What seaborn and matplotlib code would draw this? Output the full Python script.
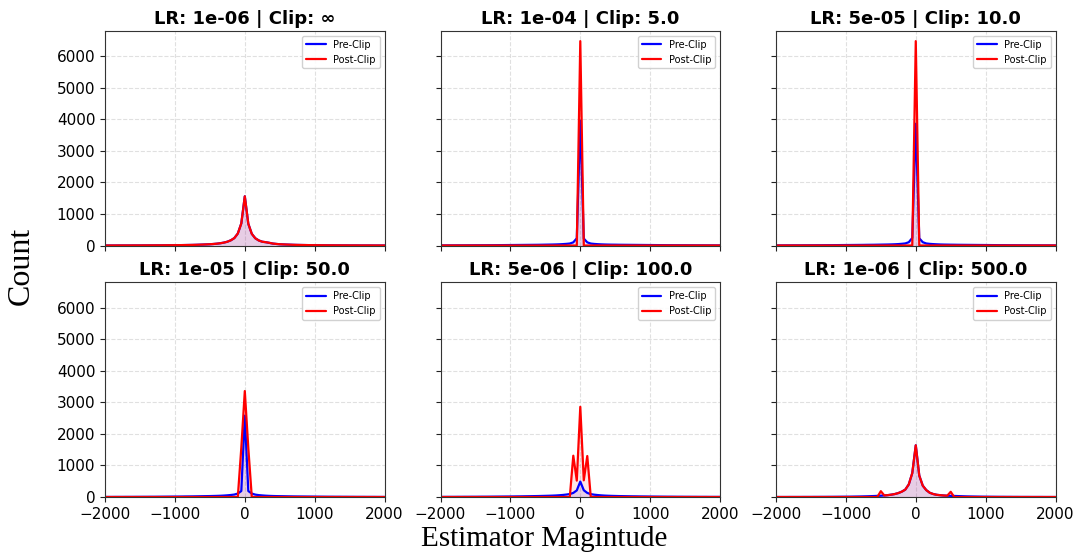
import numpy as np
import pandas as pd
import matplotlib
matplotlib.use("Agg")
import matplotlib.pyplot as plt
import seaborn as sns

# Histogram bin centres of the estimator magnitude (bin width 50)
bin_centers = np.arange(-2000, 2001, 50)

titles = [
    "LR: 1e-06 | Clip: \u221e",
    "LR: 1e-04 | Clip: 5.0",
    "LR: 5e-05 | Clip: 10.0",
    "LR: 1e-05 | Clip: 50.0",
    "LR: 5e-06 | Clip: 100.0",
    "LR: 1e-06 | Clip: 500.0",
]

# --- counts per bin: left tail (-2000..-550), core (-500..500), right tail (550..2000)
pre_1 = ([1, 1, 1, 1, 2, 2, 2, 2, 3, 3, 3, 4, 4, 5, 5, 6, 6, 7, 8, 9,
          10, 11, 13, 15, 17, 19, 22, 26, 30, 35]
         + [40, 48, 58, 72, 92, 120, 165, 235, 380, 700, 1560, 690, 370, 230,
            160, 120, 105, 85, 62, 50, 40]
         + [35, 30, 26, 22, 19, 17, 15, 13, 11, 10, 9, 8, 7, 6, 6, 5, 5, 4, 4,
            3, 3, 3, 2, 2, 2, 2, 1, 1, 1, 1])
post_1 = list(pre_1)  # no clipping

pre_2 = ([4, 4, 5, 5, 5, 6, 6, 6, 7, 7, 8, 8, 9, 9, 10, 10, 11, 12, 13, 14,
          15, 16, 17, 18, 19, 20, 21, 22, 23, 25]
         + [27, 29, 31, 34, 38, 44, 52, 63, 100, 230, 3960, 220, 100, 62, 50,
            42, 36, 32, 29, 27, 26]
         + [24, 23, 22, 21, 20, 19, 18, 17, 16, 15, 14, 13, 12, 11, 10, 10, 9,
            9, 8, 8, 7, 7, 6, 6, 6, 5, 5, 5, 4, 4])
post_2 = [0] * 40 + [6480] + [0] * 40

pre_3 = ([4, 4, 4, 5, 5, 6, 6, 6, 7, 7, 8, 8, 9, 9, 10, 11, 11, 12, 13, 14,
          15, 16, 17, 18, 19, 20, 22, 23, 24, 26]
         + [28, 30, 32, 35, 39, 45, 54, 66, 105, 240, 3860, 230, 105, 65, 52,
            44, 38, 33, 30, 28, 26]
         + [25, 23, 22, 21, 20, 19, 18, 17, 16, 15, 14, 13, 12, 11, 11, 10, 9,
            9, 8, 8, 7, 7, 6, 6, 6, 5, 5, 5, 4, 4])
post_3 = [0] * 40 + [6480] + [0] * 40

pre_4 = ([3, 3, 3, 4, 4, 4, 5, 5, 5, 6, 6, 7, 7, 8, 8, 9, 10, 11, 12, 13,
          14, 15, 16, 18, 19, 20, 22, 24, 26, 28]
         + [30, 33, 36, 40, 46, 54, 64, 78, 110, 190, 2580, 190, 110, 76, 60,
            50, 42, 36, 32, 29, 27]
         + [25, 23, 21, 19, 18, 17, 16, 15, 14, 13, 12, 11, 10, 9, 9, 8, 8, 7,
            7, 6, 6, 5, 5, 5, 4, 4, 4, 3, 3, 3])
post_4 = [0] * 38 + [0, 1560, 3360, 1560, 0] + [0] * 38

pre_5 = ([4, 4, 5, 5, 5, 6, 6, 7, 7, 8, 8, 9, 10, 10, 11, 12, 13, 14, 15, 16,
          17, 18, 20, 21, 23, 25, 27, 29, 31, 34]
         + [37, 40, 44, 49, 56, 65, 78, 95, 130, 210, 490, 215, 130, 92, 74,
            62, 52, 45, 40, 36, 33]
         + [30, 28, 26, 24, 22, 21, 19, 18, 17, 15, 14, 13, 12, 11, 10, 10, 9,
            8, 8, 7, 7, 6, 6, 5, 5, 5, 4, 4, 4, 4])
post_5 = [0] * 37 + [0, 1310, 520, 2860, 530, 1300, 0] + [0] * 37

pre_6 = ([1, 1, 1, 1, 2, 2, 2, 2, 3, 3, 3, 4, 4, 5, 5, 6, 6, 7, 8, 9,
          10, 11, 13, 15, 17, 20, 23, 27, 31, 36]
         + [42, 50, 60, 75, 95, 125, 170, 235, 400, 760, 1640, 680, 360, 220,
            135, 95, 70, 58, 48, 42, 38]
         + [34, 30, 26, 22, 19, 17, 15, 13, 11, 10, 9, 8, 7, 6, 6, 5, 5, 4, 4,
            3, 3, 3, 2, 2, 2, 2, 1, 1, 1, 1])
post_6 = ([0] * 30
          + [185, 50, 60, 75, 95, 125, 170, 235, 400, 760, 1640, 680, 360, 220,
             135, 95, 70, 58, 48, 42, 165]
          + [0] * 30)

pre_counts = [pre_1, pre_2, pre_3, pre_4, pre_5, pre_6]
post_counts = [post_1, post_2, post_3, post_4, post_5, post_6]

sns.set_style("ticks")
plt.rcParams["font.family"] = ["DejaVu Sans"]
plt.rcParams.update({
    "text.color": "black",
    "axes.labelcolor": "black",
    "xtick.color": "#222222",
    "ytick.color": "#222222",
    "xtick.labelcolor": "black",
    "ytick.labelcolor": "black",
})

fig, axes = plt.subplots(2, 3, figsize=(10.76, 5.52), dpi=100,
                         sharex=True, sharey=True)
fig.subplots_adjust(left=0.0976, right=0.981, top=0.944, bottom=0.0996,
                    wspace=0.2, hspace=0.172)

palette = {"Pre-Clip": "blue", "Post-Clip": "red"}

for ax, title, pre, post in zip(axes.flat, titles, pre_counts, post_counts):
    df = pd.DataFrame({
        "magnitude": np.concatenate([bin_centers, bin_centers]),
        "count": np.concatenate([pre, post]),
        "stage": ["Pre-Clip"] * len(bin_centers) + ["Post-Clip"] * len(bin_centers),
    })
    sns.lineplot(data=df, x="magnitude", y="count", hue="stage",
                 palette=palette, linewidth=1.6, ax=ax, legend=False)
    ax.fill_between(bin_centers, pre, color="blue", alpha=0.1, linewidth=0)
    ax.fill_between(bin_centers, post, color="red", alpha=0.1, linewidth=0)

    ax.set_title(title, fontsize=13, fontweight="bold", color="black", pad=5)
    ax.set_xlabel("")
    ax.set_ylabel("")
    ax.grid(True, linestyle="--", color="#cccccc", alpha=0.6, linewidth=0.8)
    ax.set_axisbelow(True)
    for sp in ax.spines.values():
        sp.set_visible(True)
        sp.set_color("#333333")
    ax.tick_params(labelsize=11)
    handles = [plt.Line2D([], [], color="blue", lw=1.6),
               plt.Line2D([], [], color="red", lw=1.6)]
    ax.legend(handles, ["Pre-Clip", "Post-Clip"], loc="upper right",
              fontsize=7, framealpha=0.9)

axes[0, 0].set_xlim(-2000, 2000)
axes[0, 0].set_xticks([-2000, -1000, 0, 1000, 2000])
axes[0, 0].set_yticks([0, 1000, 2000, 3000, 4000, 5000, 6000])
axes[0, 0].set_ylim(0, 6804)

fig.supxlabel("Estimator Magintude", fontsize=21, family="Liberation Serif",
              x=0.506, y=0.0)
fig.supylabel("Count", fontsize=23, family="Liberation Serif", x=0.006,
              y=0.518)

fig.savefig("out.png", dpi=100)
